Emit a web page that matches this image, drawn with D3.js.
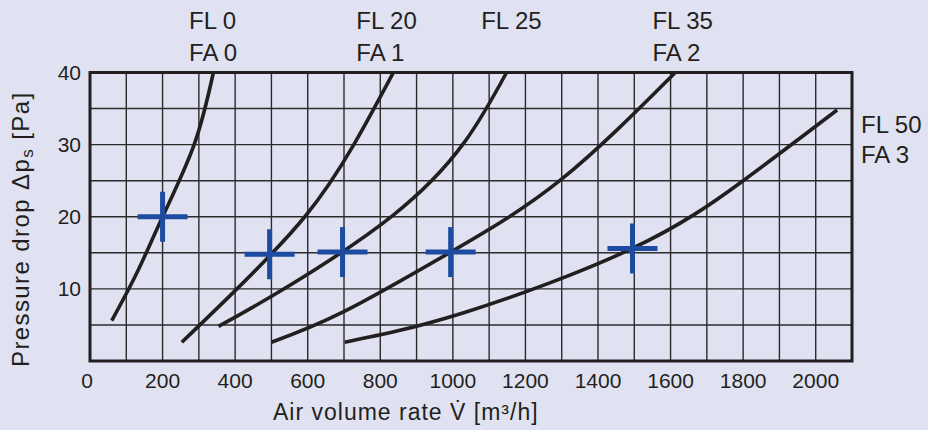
<!DOCTYPE html>
<html>
<head>
<meta charset="utf-8">
<script src="https://cdn.jsdelivr.net/npm/d3@7"></script>
<style>
  body { margin: 0; background: #e0e2f1; }
  svg { display: block; font-family: "Liberation Sans", Arial, Helvetica, sans-serif; }
</style>
</head>
<body>
<svg class="chartSVG" width="928" height="430"></svg>
<script>

// air volume rate [m3/h] vs pressure drop [Pa]
const curveFL0  = [[60, 5.6], [130, 12.3], [200, 20], [287, 30], [340, 40]];
const curveFL20 = [[253, 2.6], [405, 10], [592, 20], [727, 30], [836, 40]];
const curveFL25 = [[354, 4.8], [551, 10.5], [835, 20.2], [1030, 30.2], [1148, 40]];
const curveFL35 = [[500, 2.6], [698, 6.8], [994, 15.1], [1297, 25.1], [1613, 40]];
const curveFL50 = [[702, 2.6], [1030, 6.7], [1494, 15.6], [1800, 25], [2059, 34.8]];

const markers = [[200, 20], [495, 14.8], [696, 15.1], [994, 15.1], [1495, 15.6]];

const xTicks = [0, 200, 400, 600, 800, 1000, 1200, 1400, 1600, 1800, 2000];
const yTicks = [10, 20, 30, 40];

const topLabels = [
  {lines: ['FL 0', 'FA 0'], x: 273},
  {lines: ['FL 20', 'FA 1'], x: 734},
  {lines: ['FL 25'], x: 1078},
  {lines: ['FL 35', 'FA 2'], x: 1550}
];
const sideLabel = ['FL 50', 'FA 3'];

const svg = d3.select('svg.chartSVG');

const x = d3.scaleLinear().domain([0, 2100]).range([90, 852]);
const y = d3.scaleLinear().domain([0, 40]).range([361, 72.5]);

const ink = '#231f20';

// grid
svg.append('g')
    .attr('class', 'grid')
    .selectAll('line.v')
    .data(d3.range(100, 2100, 100))
    .enter()
    .append('line')
    .attr('x1', d => x(d))
    .attr('x2', d => x(d))
    .attr('y1', y(0))
    .attr('y2', y(40))
    .style('stroke', '#2b2b2b')
    .style('stroke-width', 1.4);

svg.select('g.grid')
    .selectAll('line.h')
    .data(d3.range(5, 40, 5))
    .enter()
    .append('line')
    .attr('x1', x(0))
    .attr('x2', x(2100))
    .attr('y1', d => y(d))
    .attr('y2', d => y(d))
    .style('stroke', '#2b2b2b')
    .style('stroke-width', 1.4);

// frame
svg.append('rect')
    .attr('x', x(0))
    .attr('y', y(40))
    .attr('width', x(2100) - x(0))
    .attr('height', y(0) - y(40))
    .style('fill', 'none')
    .style('stroke', ink)
    .style('stroke-width', 3);

// curves
const line = d3.line()
    .x(d => x(d[0]))
    .y(d => y(d[1]))
    .curve(d3.curveNatural);

svg.append('g')
    .attr('class', 'curves')
    .selectAll('path')
    .data([curveFL0, curveFL20, curveFL25, curveFL35, curveFL50])
    .enter()
    .append('path')
    .attr('d', d => line(d))
    .style('fill', 'none')
    .style('stroke', ink)
    .style('stroke-width', 3.6);

// blue crosses
const arm = 25;
const crossGrp = svg.append('g').attr('class', 'crosses');
crossGrp.selectAll('line.hz')
    .data(markers)
    .enter()
    .append('line')
    .attr('x1', d => x(d[0]) - arm)
    .attr('x2', d => x(d[0]) + arm)
    .attr('y1', d => y(d[1]))
    .attr('y2', d => y(d[1]))
    .style('stroke', '#1d4b9f')
    .style('stroke-width', 5);
crossGrp.selectAll('line.vt')
    .data(markers)
    .enter()
    .append('line')
    .attr('x1', d => x(d[0]))
    .attr('x2', d => x(d[0]))
    .attr('y1', d => y(d[1]) - arm)
    .attr('y2', d => y(d[1]) + arm)
    .style('stroke', '#1d4b9f')
    .style('stroke-width', 5);

// tick labels
svg.append('g')
    .selectAll('text')
    .data(xTicks)
    .enter()
    .append('text')
    .attr('x', d => d === 0 ? x(d) - 3 : x(d))
    .attr('y', 388)
    .text(d => d)
    .style('text-anchor', 'middle')
    .style('font-size', '21px')
    .style('fill', ink);

svg.append('g')
    .selectAll('text')
    .data(yTicks)
    .enter()
    .append('text')
    .attr('x', 81)
    .attr('y', d => y(d) + 7.5)
    .text(d => d)
    .style('text-anchor', 'end')
    .style('font-size', '21px')
    .style('fill', ink);

// curve labels
const lblGrp = svg.append('g').attr('class', 'curveLabels');
topLabels.forEach(l => {
  l.lines.forEach((t, i) => {
    lblGrp.append('text')
        .attr('x', x(l.x))
        .attr('y', 29 + i * 32)
        .text(t)
        .style('font-size', '24px')
        .style('fill', ink);
  });
});
sideLabel.forEach((t, i) => {
  lblGrp.append('text')
      .attr('x', 861)
      .attr('y', 133 + i * 30)
      .text(t)
      .style('font-size', '24px')
      .style('fill', ink);
});

// axis titles
svg.append('text')
    .attr('x', 273)
    .attr('y', 420)
    .text('Air volume rate V\u0307 [m³/h]')
    .style('font-size', '23px')
    .style('letter-spacing', '1px')
    .style('fill', ink);

const yTitle = svg.append('text')
    .attr('transform', 'translate(29,367) rotate(-90)')
    .style('font-size', '24px')
    .style('letter-spacing', '1.4px')
    .style('fill', ink);
yTitle.append('tspan').text('Pressure drop \u0394p');
yTitle.append('tspan').attr('dy', 4).style('font-size', '17px').text('s');
yTitle.append('tspan').attr('dy', -4).text(' [Pa]');

</script>
</body>
</html>
